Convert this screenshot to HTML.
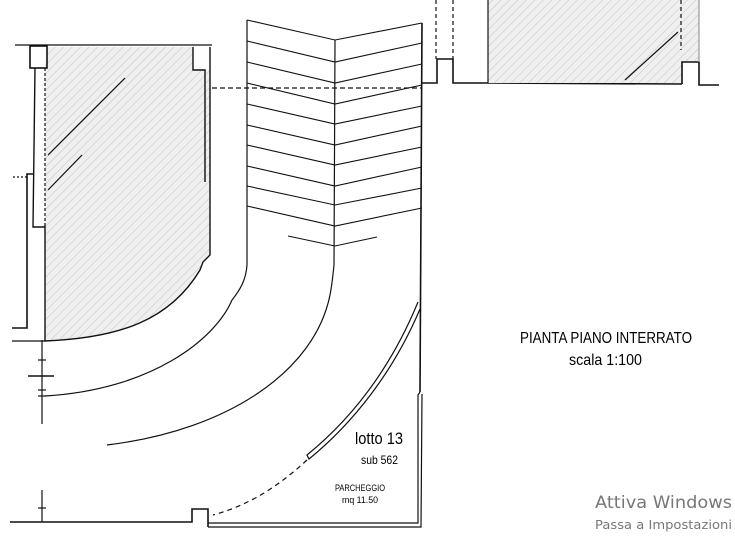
<!DOCTYPE html>
<html><head><meta charset="utf-8"><style>html,body{margin:0;padding:0;background:#fff}svg{display:block}</style></head>
<body>
<svg width="735" height="538" viewBox="0 0 735 538" xmlns="http://www.w3.org/2000/svg" font-family="'Liberation Sans Narrow','Liberation Sans',sans-serif">
<defs>
<pattern id="h" width="6" height="6" patternUnits="userSpaceOnUse" patternTransform="rotate(45)">
<rect width="6" height="6" fill="#efefef"/>
<line x1="0" y1="0" x2="0" y2="6" stroke="#b8b8b8" stroke-width="0.8"/>
</pattern>
</defs>
<g fill="none" stroke="#111" stroke-width="1.2">
<!-- left building -->
<path d="M45 68 L45 340 C120 338 170 320 200 270 L203 262 L210 255 L210 70 L193 70 L193 47 L47 47 Z" fill="url(#h)" stroke="none"/>
<path d="M45 225 L45 341 C120 338 170 320 200 270 L203 262 L210 255 L210 47" stroke-width="1.4"/>
<line x1="15" y1="45" x2="212" y2="45"/>
<rect x="30" y="46" width="17" height="22" stroke-width="1.6"/>
<path d="M193 47 L193 70 L205 70 L205 182" stroke-width="1.4"/>
<path d="M35 68 L33 227 L45 227" stroke-width="1.4"/>
<path d="M33 174 L27 174 L27 328 L12 328" stroke-width="1.6"/>
<line x1="13" y1="177" x2="27" y2="177" stroke-dasharray="2 2"/>
<line x1="45" y1="68" x2="45" y2="225" stroke-dasharray="3 2"/>
<line x1="12" y1="341" x2="45" y2="341"/>
<line x1="48" y1="155" x2="125" y2="78" stroke-width="1.2"/>
<line x1="48" y1="190" x2="82" y2="155" stroke-width="1.2"/>
<!-- dashed horizontal -->
<line x1="212" y1="88" x2="422" y2="88" stroke-dasharray="5 3"/>
<!-- ramp -->
<path d="M247 20 L247 265 C246 280 240 290 232 300"/>
<path d="M335 40 L334 265 C333 275 332 285 330 295"/>
<line x1="422" y1="23" x2="420" y2="392" stroke-width="1.6"/>
<g stroke-width="1.1">
<polyline points="247,20 335,40 422,23"/>
<polyline points="247,41 335,62 422,43"/>
<polyline points="247,62 335,83 422,64"/>
<polyline points="247,83 335,104 422,85"/>
<polyline points="247,104 335,124 422,106"/>
<polyline points="247,125 335,145 422,126"/>
<polyline points="247,145 335,165 422,147"/>
<polyline points="247,166 335,186 422,167"/>
<polyline points="247,186 335,205 422,188"/>
<polyline points="247,206 335,226 422,208"/>
<polyline points="288,236 335,246 377,237"/>
</g>
<!-- arcs -->
<path d="M232 300 C215 340 150 390 45 396"/>
<path d="M330 295 C315 370 230 430 107 445"/>
<path d="M418 302 C390 370 350 420 307 455 L309 459 C352 424 393 373 420 309"/>
<path d="M307 460 C280 485 250 505 213 515" stroke-dasharray="5 4"/>
<!-- right bottom wall -->
<path d="M420 392 L418 395 L418 523 L208 523"/>
<path d="M422 394 L421 527 L208 527" stroke-width="1.2"/>
<path d="M10 522 L192 522 L192 509 L208 509 L208 527" stroke-width="1.6"/>
<!-- axis -->
<line x1="42" y1="340" x2="42" y2="424"/>
<line x1="38" y1="360" x2="46" y2="360"/>
<line x1="28" y1="376" x2="54" y2="376" stroke-width="1.6"/>
<line x1="38" y1="390" x2="46" y2="390"/>
<line x1="38" y1="396" x2="46" y2="396"/>
<line x1="42" y1="490" x2="42" y2="522"/>
<line x1="38" y1="508" x2="46" y2="508"/>
<!-- top right -->
<path d="M422 83 L437 83 L437 59 L453 59 L453 83 L488 83 L682 84" stroke-width="1.6"/>
<rect x="488" y="0" width="194" height="83" fill="url(#h)" stroke="none"/>
<rect x="682" y="0" width="17" height="62" fill="url(#h)" stroke="none"/>
<line x1="488" y1="0" x2="488" y2="83"/>
<path d="M682 84 L682 62 L699 62 L699 85 L719 85" stroke-width="1.6"/>
<line x1="699" y1="0" x2="699" y2="62" stroke="#999"/>
<line x1="436" y1="0" x2="436" y2="59" stroke-dasharray="4 3"/>
<line x1="453" y1="0" x2="453" y2="59" stroke-dasharray="4 3"/>
<line x1="681" y1="0" x2="681" y2="50" stroke-dasharray="4 3"/>
<line x1="625" y1="80" x2="678" y2="32"/>
</g>
<g fill="#000">
<text x="520" y="343" font-size="16" textLength="172" lengthAdjust="spacingAndGlyphs">PIANTA PIANO INTERRATO</text>
<text x="569" y="365" font-size="16" textLength="73" lengthAdjust="spacingAndGlyphs">scala 1:100</text>
<text x="355" y="444" font-size="17" textLength="48" lengthAdjust="spacingAndGlyphs">lotto 13</text>
<text x="361" y="464" font-size="12" textLength="37" lengthAdjust="spacingAndGlyphs">sub 562</text>
<text x="335" y="491" font-size="9.5" textLength="50" lengthAdjust="spacingAndGlyphs">PARCHEGGIO</text>
<text x="342" y="503" font-size="9.5" textLength="36" lengthAdjust="spacingAndGlyphs">mq 11.50</text>
</g>
<text x="595" y="508" font-family="'DejaVu Sans','Liberation Sans',sans-serif" font-size="17" fill="#777" textLength="137" lengthAdjust="spacingAndGlyphs">Attiva Windows</text>
<text x="595" y="529" font-family="'DejaVu Sans','Liberation Sans',sans-serif" font-size="12.5" fill="#777" textLength="137" lengthAdjust="spacingAndGlyphs">Passa a Impostazioni</text>
</svg>
</body></html>
